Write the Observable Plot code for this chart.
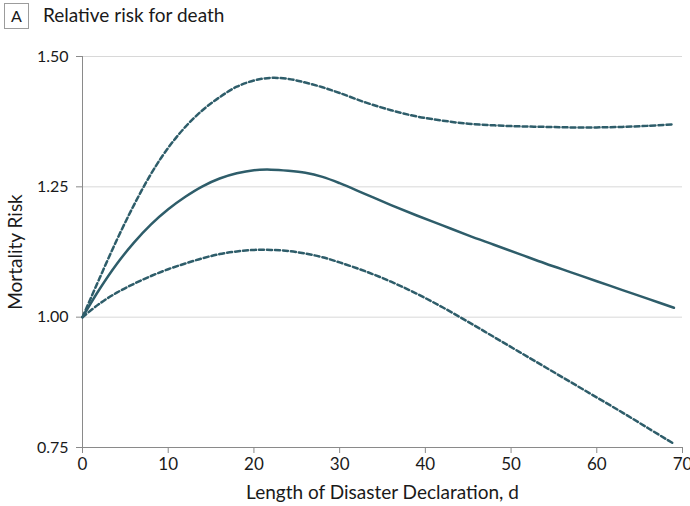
<!DOCTYPE html>
<html><head><meta charset="utf-8">
<script src="https://cdn.jsdelivr.net/npm/d3@7"></script>
<script src="https://cdn.jsdelivr.net/npm/@observablehq/plot@0.6"></script>
<style>
body{margin:0;background:#fff;font-family:Lato,"Liberation Sans",sans-serif;color:#222;}
#wrap{position:relative;width:690px;height:506px;overflow:hidden;}
#head{position:relative;height:34px;}
#badge{position:absolute;left:4px;top:3px;width:25px;height:26px;border:1px solid #9c9c9c;box-sizing:border-box;font-size:16px;line-height:24px;text-align:center;color:#1a1a1a;}
#title{position:absolute;left:43px;top:3px;font-size:19px;line-height:24px;color:#1a1a1a;}
#chart svg{overflow:visible;}
</style>
</head><body>
<div id="wrap">
<div id="head"><div id="badge">A</div><div id="title">Relative risk for death</div></div>
<div id="chart"></div>
</div>
<script>
const days   = [0, 2, 4, 6, 8, 10, 12, 14, 16, 18, 20, 22, 24, 26, 28, 30, 33, 36, 39, 42, 45, 48, 51, 54, 57, 60, 63, 66, 69];
const center = [1.000, 1.054, 1.102, 1.143, 1.178, 1.207, 1.231, 1.251, 1.266, 1.276, 1.282, 1.283, 1.281, 1.277, 1.269, 1.257, 1.236, 1.215, 1.195, 1.176, 1.157, 1.139, 1.121, 1.103, 1.086, 1.069, 1.052, 1.035, 1.018];
const upper  = [1.000, 1.075, 1.148, 1.215, 1.275, 1.325, 1.365, 1.397, 1.422, 1.442, 1.454, 1.459, 1.457, 1.450, 1.441, 1.430, 1.412, 1.397, 1.385, 1.377, 1.371, 1.368, 1.366, 1.365, 1.364, 1.364, 1.365, 1.367, 1.370];
const lower  = [1.000, 1.026, 1.047, 1.064, 1.079, 1.092, 1.103, 1.113, 1.121, 1.126, 1.129, 1.129, 1.127, 1.122, 1.115, 1.105, 1.088, 1.068, 1.045, 1.019, 0.991, 0.962, 0.933, 0.904, 0.875, 0.846, 0.817, 0.787, 0.757];
const xTicks = [0, 10, 20, 30, 40, 50, 60, 70];
const yTicks = [0.75, 1.00, 1.25, 1.50];
const gridValues = [1.00, 1.25, 1.50];
const xLabel = "Length of Disaster Declaration, d";
const yLabel = "Mortality Risk";

const rows = (vals) => days.map((d, i) => ({d, v: vals[i]}));
const col = "#2e5d6a";
const axisCol = "#8a8a8a";

const chart = Plot.plot({
  width: 690,
  height: 472,
  marginLeft: 82,
  marginRight: 8,
  marginTop: 22,
  marginBottom: 59,
  style: {fontFamily: "Lato, 'Liberation Sans', sans-serif", color: "#1a1a1a", background: "#fff", overflow: "visible"},
  x: {domain: [0, 70]},
  y: {domain: [0.75, 1.5]},
  marks: [
    Plot.gridY(gridValues, {stroke: "#d8d8d8", strokeOpacity: 1, strokeWidth: 1}),
    Plot.ruleX([0], {stroke: axisCol, strokeWidth: 1}),
    Plot.ruleY([0.75], {stroke: axisCol, strokeWidth: 1}),
    Plot.axisX({ticks: xTicks, tickSize: 6, tickPadding: 4, fontSize: 17, stroke: axisCol, label: null, tickFormat: d3.format("d")}),
    Plot.axisY({ticks: yTicks, tickSize: 6, tickPadding: 8, fontSize: 16, stroke: axisCol, label: null, tickFormat: d3.format(".2f")}),
    Plot.line(rows(upper), {x: "d", y: "v", stroke: col, strokeWidth: 2.5, strokeDasharray: "5,3", curve: "catmull-rom"}),
    Plot.line(rows(lower), {x: "d", y: "v", stroke: col, strokeWidth: 2.5, strokeDasharray: "5,3", curve: "catmull-rom"}),
    Plot.line(rows(center), {x: "d", y: "v", stroke: col, strokeWidth: 2.5, curve: "catmull-rom"}),
    Plot.text([xLabel], {frameAnchor: "bottom", lineAnchor: "bottom", textAnchor: "middle", dy: 51, fontSize: 19, fill: "#1a1a1a"}),
    Plot.text([yLabel], {frameAnchor: "left", lineAnchor: "bottom", textAnchor: "middle", rotate: -90, dx: -61, fontSize: 19, fill: "#1a1a1a"})
  ]
});
document.getElementById("chart").appendChild(chart);
</script>
</body></html>
